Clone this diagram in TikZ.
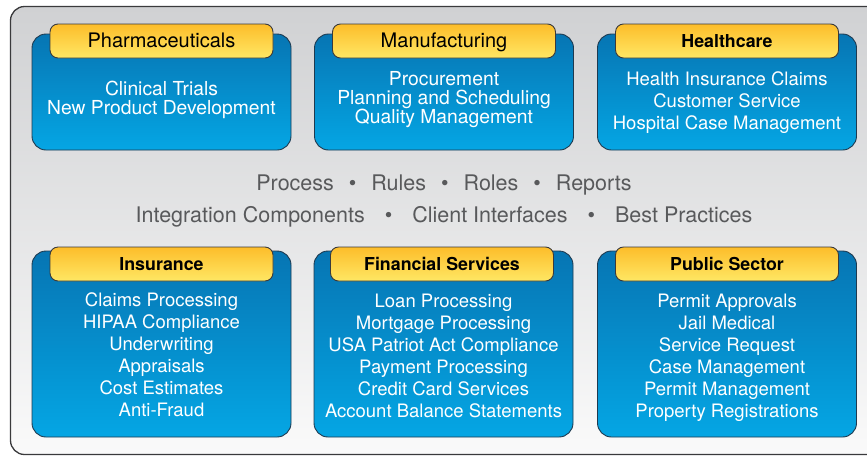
\documentclass[tikz,border=0pt]{standalone}
\usepackage{fontspec}
\setmainfont{TeX Gyre Heros}
\usepackage{tikz}
\usetikzlibrary{positioning}
\definecolor{frameline}{HTML}{3A3A3C}
\definecolor{panelTop}{HTML}{D0D1D3}
\definecolor{panelBot}{HTML}{FAFAFA}
\definecolor{blueTop}{HTML}{0675B3}
\definecolor{blueBot}{HTML}{05A6E4}
\definecolor{blueline}{HTML}{1E3A50}
\definecolor{tabTop}{HTML}{FDBD2A}
\definecolor{tabBot}{HTML}{FEE764}
\definecolor{midtext}{HTML}{58595B}
\newcommand{\dotsep}[1]{\hspace{#1}\textbullet\hspace{#1}}

\begin{document}
\begin{tikzpicture}[
        x=1pt, y=-1pt,
        sectorbox/.style={draw=blueline, line width=0.9pt, rounded corners=14pt,
          top color=blueTop, bottom color=blueBot, minimum width=259pt,
          inner sep=0pt},
        sectortab/.style={draw=frameline, line width=0.9pt, rounded corners=8pt,
          top color=tabTop, bottom color=tabBot, minimum width=223pt,
          minimum height=34pt, inner sep=0pt, text=black,
          text height=16pt, text depth=4pt},
        tabplain/.style={sectortab, font=\fontsize{20}{20}\selectfont},
        tabbold/.style={sectortab, font=\fontsize{17.8}{20}\selectfont\bfseries},
        tasklist/.style={text=white, align=center},
        tight/.style={tasklist, font=\fontsize{19.3}{19}\selectfont},
        loose/.style={tasklist, font=\fontsize{18.5}{22}\selectfont},
        midline/.style={text=midtext, font=\fontsize{21.5}{24}\selectfont},
      ]
      \useasboundingbox (0,0) rectangle (867,456);
      \clip (0,0) rectangle (867,456);

      % Rahmen
      \draw[frameline, line width=1.3pt, rounded corners=14pt,
        top color=panelTop, bottom color=panelBot]
        (10.5,6.5) rectangle (890,454.5);

      % obere Reihe
      \node[sectorbox, minimum height=116pt] (pharma) at (161.5,92) {};
      \node[sectorbox, minimum height=116pt] (manu) at (444,92) {};
      \node[sectorbox, minimum height=116pt] (health) at (727,92) {};

      \node[tabplain] (pharma-tab) at (161.5,41) {Pharmaceuticals};
      \node[tabplain] (manu-tab) at (444,41) {Manufacturing};
      \node[tabbold] (health-tab) at (727,41) {Healthcare};

      \node[tight] (pharma-list) at (161.5,99.5)
        {Clinical Trials\\New Product Development};
      \node[tight] (manu-list) at (444,100)
        {Procurement\\Planning and Scheduling\\Quality Management};
      \node[loose] (health-list) at (727,103)
        {Health Insurance Claims\\Customer Service\\Hospital Case Management};

      % Mitte
      \node[midline] (core) at (444,185)
        {Process\dotsep{15pt}Rules\dotsep{15pt}Roles\dotsep{15pt}Reports};
      \node[midline] (extras) at (444,217)
        {Integration Components\dotsep{20pt}Client Interfaces\dotsep{20pt}Best Practices};

      % untere Reihe
      \node[sectorbox, minimum height=186pt] (insur) at (161.5,344) {};
      \node[sectorbox, minimum height=186pt] (fin) at (443.5,344) {};
      \node[sectorbox, minimum height=186pt] (public) at (727,344) {};

      \node[tabbold] (insur-tab) at (161.5,264) {Insurance};
      \node[tabbold] (fin-tab) at (442,264) {Financial Services};
      \node[tabbold] (public-tab) at (727,264) {Public Sector};

      \node[loose] (insur-list) at (161.5,355)
        {Claims Processing\\HIPAA Compliance\\Underwriting\\Appraisals\\Cost Estimates\\Anti-Fraud};
      \node[loose] (fin-list) at (443.5,356)
        {Loan Processing\\Mortgage Processing\\USA Patriot Act Compliance\\Payment Processing\\Credit Card Services\\Account Balance Statements};
      \node[loose] (public-list) at (727,358)
        {Permit Approvals\\Jail Medical\\Service Request\\Case Management\\Permit Management\\Property Registrations};
    \end{tikzpicture}
\end{document}
